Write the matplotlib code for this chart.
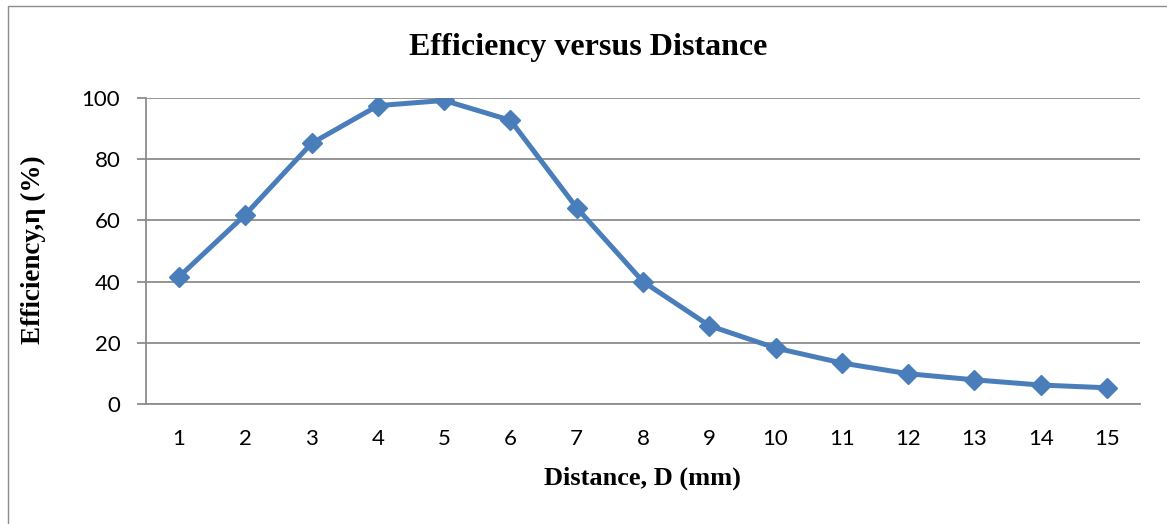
import matplotlib.pyplot as plt
from matplotlib.patches import Rectangle

# 数据
distance = list(range(1, 16))
efficiency = [41.6, 61.9, 85.2, 97.5, 99.2, 92.7, 64.1, 40.0, 25.6, 18.3,
              13.4, 9.9, 7.9, 6.2, 5.3]
y_ticks = [0, 20, 40, 60, 80, 100]

title = 'Efficiency versus Distance'
x_label = 'Distance, D (mm)'
y_label = 'Efficiency,η (%)'


def plot_efficiency():
    serif = ['Liberation Serif', 'DejaVu Serif']
    tick_font = 'Lato'

    fig = plt.figure(figsize=(11.67, 5.24), dpi=100)
    ax = fig.add_axes([0.1251, 0.229, 0.9769 - 0.1251, 0.813 - 0.229])

    # 外框（只有左边和上边可见）
    fig.patches.append(Rectangle((8 / 1167, -0.1), 1.2, 1.1 - 6 / 524,
                                 transform=fig.transFigure, fill=False,
                                 edgecolor='#8c8c8c', linewidth=1.0))

    ax.plot(distance, efficiency, color='#4a7ebb', linewidth=3.6,
            marker='D', markersize=10.5, markeredgewidth=1,
            markeredgecolor='#4a7ebb', markerfacecolor='#4a7ebb',
            solid_joinstyle='round', zorder=3)

    ax.set_xlim(0.5, 15.5)
    ax.set_ylim(0, 100)
    ax.set_xticks(distance)
    ax.set_yticks(y_ticks)
    ax.yaxis.grid(True, color='#8c8c8c', linewidth=1.3)
    ax.set_axisbelow(True)

    for s in ['top', 'right']:
        ax.spines[s].set_visible(False)
    for s in ['left', 'bottom']:
        ax.spines[s].set_color('#8c8c8c')
        ax.spines[s].set_linewidth(1.3)

    ax.tick_params(axis='y', length=6.5, width=1.3, color='#8c8c8c', pad=12)
    ax.tick_params(axis='x', length=0, pad=18)
    for lab in ax.get_xticklabels() + ax.get_yticklabels():
        lab.set_fontfamily(tick_font)
        lab.set_fontsize(16)
        lab.set_color('black')

    fig.text(588 / 1167, 1 - 47 / 524, title, ha='center', va='center',
             family=serif, fontsize=23, fontweight='bold')
    fig.text(642 / 1167, 1 - 478 / 524, x_label, ha='center', va='center',
             family=serif, fontsize=19, fontweight='bold')
    fig.text(33 / 1167, 1 - 250 / 524, y_label, ha='center', va='center',
             rotation=90, family=serif, fontsize=19.5, fontweight='bold')

    fig.savefig('out.png', dpi=100)


if __name__ == "__main__":
    plot_efficiency()
